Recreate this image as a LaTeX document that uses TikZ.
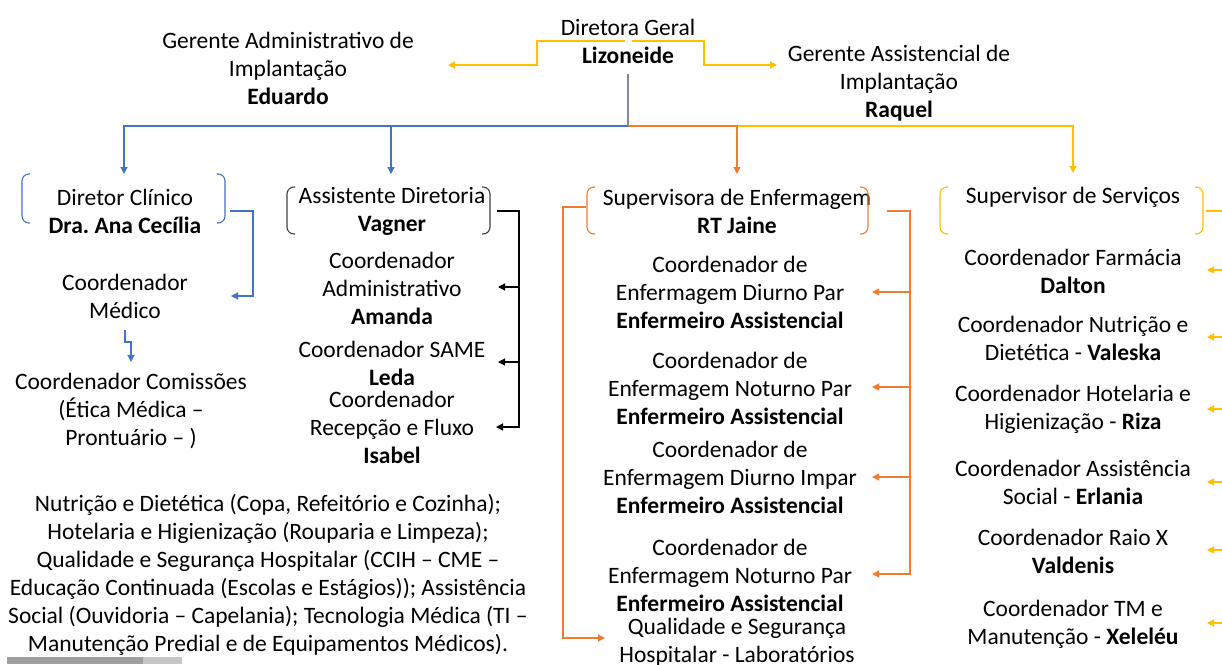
\documentclass[tikz,border=0pt]{standalone}
\usepackage{fontspec}
\setmainfont{Carlito}
\usetikzlibrary{arrows.meta}
\definecolor{cblue}{HTML}{4472C4}
\definecolor{cyel}{HTML}{FFC000}
\definecolor{corg}{HTML}{ED7D31}
\definecolor{cgray}{HTML}{7F8B99}
\definecolor{cdark}{HTML}{404040}
\tikzset{
 txt/.style={align=center, inner sep=0pt, font=\fontsize{23.5}{28}\selectfont\frenchspacing},
 conn/.style={line width=1.2pt},
 arr/.style={conn, -{Triangle[length=7pt,width=7pt]}},
 brk/.style={line width=1.1pt, rounded corners=7pt},
}
\newcommand{\mybrk}[5]{%
 \draw[brk,#1] (#2+8,#3) -- (#2,#3) -- (#2,#5) -- (#2+8,#5);
 \draw[brk,#1] (#4-8,#3) -- (#4,#3) -- (#4,#5) -- (#4-8,#5);}
\begin{document}
\begin{tikzpicture}[x=1pt,y=-1pt]
\useasboundingbox (0,0) rectangle (1222,664);
\clip (0,0) rectangle (1222,664);
\fill[white] (0,0) rectangle (1222,664);

% ---------- text nodes ----------
\node[txt] (dg) at (628,41) {Diretora Geral\\\textbf{Lizoneide}};
\node[txt] (gad) at (288,68) {Gerente Administrativo de\\Implantação\\\textbf{Eduardo}};
\node[txt] (gas) at (899,83) {Gerente Assistencial de\\Implantação\\\textbf{Raquel}};

\node[txt] (dc) at (125,211) {Diretor Clínico\\\textbf{Dra. Ana Cecília}};
\node[txt] (cm) at (125,296.5) {Coordenador\\Médico};
\node[txt] (cc) at (131,411) {Coordenador Comissões\\(Ética Médica –\\Prontuário – )};

\node[txt] (ad) at (392,211.5) {Assistente Diretoria\\\textbf{Vagner}};
\node[txt] (ca) at (392,288.5) {Coordenador\\Administrativo\\\textbf{Amanda}};
\node[txt] (cs) at (392,363) {Coordenador SAME\\\textbf{Leda}};
\node[txt] (cr) at (392,427.5) {Coordenador\\Recepção e Fluxo\\\textbf{Isabel}};

\node[txt] (se) at (737,211) {Supervisora de Enfermagem\\\textbf{RT Jaine}};
\node[txt] (e1) at (730,292) {Coordenador de\\Enfermagem Diurno Par\\\textbf{Enfermeiro Assistencial}};
\node[txt] (e2) at (730,388) {Coordenador de\\Enfermagem Noturno Par\\\textbf{Enfermeiro Assistencial}};
\node[txt] (e3) at (730,477) {Coordenador de\\Enfermagem Diurno Impar\\\textbf{Enfermeiro Assistencial}};
\node[txt] (e4) at (730,575) {Coordenador de\\Enfermagem Noturno Par\\\textbf{Enfermeiro Assistencial}};
\node[txt] (q) at (737,642) {Qualidade e Segurança\\Hospitalar - Laboratórios};

\node[txt] (ss) at (1073,197) {Supervisor de Serviços};
\node[txt] (f1) at (1073,271) {Coordenador Farmácia\\\textbf{Dalton}};
\node[txt] (f2) at (1073,338) {Coordenador Nutrição e\\Dietética - \textbf{Valeska}};
\node[txt] (f3) at (1073,409.5) {Coordenador Hotelaria e\\Higienização - \textbf{Riza}};
\node[txt] (f4) at (1073,482) {Coordenador Assistência\\Social - \textbf{Erlania}};
\node[txt] (f5) at (1073,551) {Coordenador Raio X\\\textbf{Valdenis}};
\node[txt] (f6) at (1073,624) {Coordenador TM e\\Manutenção - \textbf{Xeleléu}};

\node[txt] (para) at (268,575) {Nutrição e Dietética (Copa, Refeitório e Cozinha);\\
Hotelaria e Higienização (Rouparia e Limpeza);\\
Qualidade e Segurança Hospitalar (CCIH – CME –\\
Educação Continuada (Escolas e Estágios)); Assistência\\
Social (Ouvidoria – Capelania); Tecnologia Médica (TI –\\
Manutenção Predial e de Equipamentos Médicos).};

% ---------- brackets ----------
\mybrk{cblue}{22}{174}{225}{223}
\mybrk{cdark}{287}{187}{490}{234}
\mybrk{corg}{587}{187}{868}{234}
\mybrk{cyel}{940}{187}{1203}{234}

% ---------- named connector points ----------
\coordinate (dgL) at (625,41);
\coordinate (dgR) at (632,41);
\coordinate (gadIn) at (448,65);
\coordinate (gasIn) at (777,65);
\coordinate (dgB) at (628,74);
\coordinate (hub) at (628,126);
\coordinate (dcIn) at (124,174);
\coordinate (adIn) at (391,174);
\coordinate (seIn) at (737,174);
\coordinate (ssIn) at (1073,173);

\coordinate (dcOut) at (230,211);
\coordinate (cmIn) at (231,296);
\coordinate (cmOut) at (125,330);
\coordinate (ccIn) at (131,362);

\coordinate (adOut) at (497,211);
\coordinate (caIn) at (498,287);
\coordinate (csIn) at (498,362);
\coordinate (crIn) at (496,427);

\coordinate (seOut) at (887,211);
\coordinate (e1In) at (872,292);
\coordinate (e2In) at (872,387);
\coordinate (e3In) at (872,477);
\coordinate (e4In) at (872,574);
\coordinate (seOutL) at (586,207);
\coordinate (qIn) at (605,638);

\coordinate (ssOut) at (1206,211);
\coordinate (f1In) at (1207,270);
\coordinate (f2In) at (1207,337);
\coordinate (f3In) at (1207,409);
\coordinate (f4In) at (1207,482);
\coordinate (f5In) at (1207,550);
\coordinate (f6In) at (1207,623);

% ---------- connectors ----------
\draw[arr,cyel] (dgL) -- (537,41) -- (537,65) -- (gadIn);
\draw[arr,cyel] (dgR) -- (704,41) -- (704,65) -- (gasIn);
\draw[conn,cgray] (dgB) -- (hub);
\draw[arr,cyel] (hub) -- (1073,126) -- (ssIn);
\draw[arr,corg] (hub) -- (737,126) -- (seIn);
\draw[arr,cblue] (hub) -- (124,126) -- (dcIn);
\draw[arr,cblue] (391,126) -- (adIn);

\draw[arr,cblue] (dcOut) -- (253,211) -- (253,296) -- (cmIn);
\draw[arr,cblue] (cmOut) -- (125,342) -- (131,342) -- (ccIn);

\draw[arr,black] (adOut) -- (519,211) -- (519,427) -- (crIn);
\draw[arr,black] (519,287) -- (caIn);
\draw[arr,black] (519,362) -- (csIn);

\draw[arr,corg] (seOut) -- (910,211) -- (910,574) -- (e4In);
\draw[arr,corg] (910,292) -- (e1In);
\draw[arr,corg] (910,387) -- (e2In);
\draw[arr,corg] (910,477) -- (e3In);
\draw[arr,corg] (seOutL) -- (563,207) -- (563,638) -- (qIn);

\draw[conn,cyel] (ssOut) -- (1240,211) -- (1240,623);
\foreach \c/\y in {f1In/270,f2In/337,f3In/409,f4In/482,f5In/550,f6In/623}
  \draw[arr,cyel] (1240,\y) -- (\c);

% ---------- bottom bar ----------
\fill[gray!75] (7,657) rectangle (143,664);
\fill[gray!45] (143,657) rectangle (182,664);
\end{tikzpicture}
\end{document}
